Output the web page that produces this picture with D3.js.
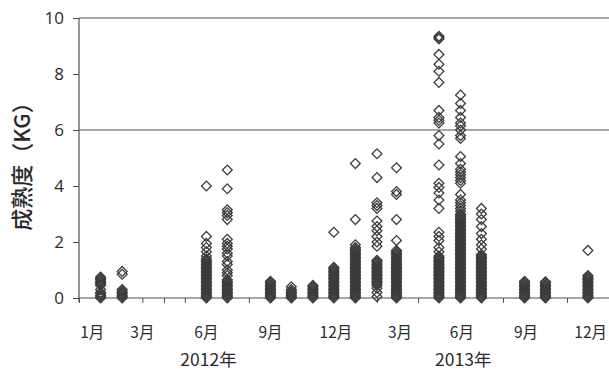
<!DOCTYPE html>
<html>
<head>
<meta charset="utf-8">
<script src="https://cdn.jsdelivr.net/npm/d3@7"></script>
<style>
  html, body { margin: 0; padding: 0; background: #fff; }
  svg { display: block; }
</style>
</head>
<body>
<svg id="chart" width="609" height="373"></svg>
<script>
// Sampling months (plotted mid-month)
const sampleDates = [
  "2012-01-15", "2012-02-15", "2012-06-15", "2012-07-15", "2012-09-15",
  "2012-10-15", "2012-11-15", "2012-12-15", "2013-01-15", "2013-02-15",
  "2013-03-15", "2013-05-15", "2013-06-15", "2013-07-15", "2013-09-15",
  "2013-10-15", "2013-12-15"
];

// Maturity readings (kg) per sampling month, same order as sampleDates
const jan2012 = [0, 0.05, 0.1, 0.15, 0.2, 0.3, 0.45, 0.5, 0.55, 0.6, 0.65, 0.7, 0.75];
const feb2012 = [0, 0.05, 0.1, 0.15, 0.2, 0.25, 0.3, 0.85, 0.95];
const jun2012 = [4.0, 2.2, 1.95, 1.8, 1.65, 1.5, 1.4, 1.35, 1.3, 1.25, 1.2, 1.15, 1.1, 1.05, 1.0, 0.95, 0.9, 0.85,
                 0.8, 0.75, 0.7, 0.65, 0.6, 0.55, 0.5, 0.45, 0.4, 0.35, 0.3, 0.25, 0.2, 0.15, 0.1, 0.05, 0];
const jul2012 = [4.57, 3.9, 3.15, 3.05, 2.95, 2.8, 2.1, 1.95, 1.85, 1.75, 1.6, 1.5, 1.3, 1.2, 1.0, 0.9, 0.8,
                 0.65, 0.6, 0.55, 0.5, 0.45, 0.4, 0.35, 0.3, 0.25, 0.2, 0.15, 0.1, 0.05, 0];
const sep2012 = [0, 0.05, 0.1, 0.15, 0.2, 0.25, 0.3, 0.35, 0.4, 0.45, 0.5, 0.55, 0.6];
const oct2012 = [0, 0.05, 0.1, 0.15, 0.2, 0.25, 0.3, 0.4];
const nov2012 = [0, 0.05, 0.1, 0.15, 0.2, 0.25, 0.3, 0.35, 0.4, 0.45];
const dec2012 = [2.35, 1.1, 1.05, 1.0, 0.95, 0.9, 0.85, 0.8, 0.75, 0.7, 0.65, 0.6, 0.55, 0.5, 0.45, 0.4,
                 0.35, 0.3, 0.25, 0.2, 0.15, 0.1, 0.05, 0];
const jan2013 = [4.8, 2.8, 1.9, 1.8, 1.75, 1.7, 1.65, 1.6, 1.55, 1.5, 1.45, 1.4, 1.35, 1.3, 1.25, 1.2, 1.15,
                 1.1, 1.05, 1.0, 0.95, 0.9, 0.85, 0.8, 0.75, 0.7, 0.65, 0.6, 0.55, 0.5, 0.45, 0.4, 0.35,
                 0.3, 0.25, 0.2, 0.15, 0.1, 0.05, 0];
const feb2013 = [5.15, 4.3, 3.4, 3.3, 3.2, 2.75, 2.55, 2.4, 2.2, 2.0, 1.85, 1.35, 1.3, 1.25, 1.2, 1.15, 1.1,
                 1.05, 1.0, 0.95, 0.9, 0.85, 0.8, 0.75, 0.7, 0.65, 0.6, 0.55, 0.5, 0.45, 0.35, 0.2, 0.05];
const mar2013 = [4.65, 3.8, 3.7, 2.8, 2.05, 1.7, 1.65, 1.6, 1.55, 1.5, 1.45, 1.4, 1.35, 1.3, 1.25, 1.2, 1.15,
                 1.1, 1.05, 1.0, 0.95, 0.9, 0.85, 0.8, 0.75, 0.7, 0.65, 0.6, 0.55, 0.5, 0.45, 0.4, 0.35,
                 0.3, 0.25, 0.2, 0.15, 0.1, 0.05, 0];
const may2013 = [9.35, 9.3, 9.25, 8.7, 8.35, 8.1, 7.7, 6.7, 6.45, 6.35, 6.25, 5.8, 5.5, 4.75, 4.1, 3.95, 3.75,
                 3.5, 3.2, 2.35, 2.2, 2.05, 1.8, 1.65, 1.5, 1.45, 1.4, 1.35, 1.3, 1.25, 1.2, 1.15, 1.1, 1.05,
                 1.0, 0.95, 0.9, 0.85, 0.8, 0.75, 0.7, 0.65, 0.6, 0.55, 0.5, 0.45, 0.4, 0.35, 0.3, 0.25,
                 0.2, 0.15, 0.1, 0.05, 0];
const jun2013 = [7.25, 6.95, 6.7, 6.45, 6.25, 6.15, 6.0, 5.8, 5.7, 5.05, 4.8, 4.6, 4.5, 4.4, 4.3, 4.2, 4.1,
                 3.7, 3.5, 3.4, 3.3, 3.2, 3.1, 3.0, 2.95, 2.9, 2.85, 2.8, 2.75, 2.7, 2.65, 2.6, 2.55, 2.5,
                 2.45, 2.4, 2.35, 2.3, 2.25, 2.2, 2.15, 2.1, 2.05, 2.0, 1.95, 1.9, 1.85, 1.8, 1.75, 1.7,
                 1.65, 1.6, 1.55, 1.5, 1.45, 1.4, 1.35, 1.3, 1.25, 1.2, 1.15, 1.1, 1.05, 1.0, 0.95, 0.9,
                 0.85, 0.8, 0.75, 0.7, 0.65, 0.6, 0.55, 0.5, 0.45, 0.4, 0.35, 0.3, 0.25, 0.2, 0.15, 0.1,
                 0.05, 0];
const jul2013 = [3.2, 3.0, 2.8, 2.55, 2.3, 2.1, 1.9, 1.75, 1.55, 1.5, 1.45, 1.4, 1.35, 1.3, 1.25, 1.2,
                 1.15, 1.1, 1.05, 1.0, 0.95, 0.9, 0.85, 0.8, 0.75, 0.7, 0.65, 0.6, 0.55, 0.5, 0.45, 0.4,
                 0.35, 0.3, 0.25, 0.2, 0.15, 0.1, 0.05, 0];
const sep2013 = [0, 0.05, 0.1, 0.15, 0.2, 0.25, 0.3, 0.35, 0.4, 0.45, 0.5, 0.55, 0.6];
const oct2013 = [0, 0.05, 0.1, 0.15, 0.2, 0.25, 0.3, 0.35, 0.4, 0.45, 0.5, 0.55, 0.58];
const dec2013 = [1.7, 0.8, 0.75, 0.7, 0.65, 0.6, 0.55, 0.5, 0.45, 0.4, 0.35, 0.3, 0.25, 0.2, 0.15, 0.1, 0.05, 0];

const maturityByMonth = [jan2012, feb2012, jun2012, jul2012, sep2012, oct2012, nov2012, dec2012,
                         jan2013, feb2013, mar2013, may2013, jun2013, jul2013, sep2013, oct2013, dec2013];

// Axis text
const yTicks = [0, 2, 4, 6, 8, 10];
const refLines = [6, 10];
const monthLabels = ["1月", "3月", "6月", "9月", "12月", "3月", "6月", "9月", "12月"];
const monthLabelDates = ["2012-01-03", "2012-03-15", "2012-06-15", "2012-09-15", "2012-12-18",
                         "2013-03-20", "2013-06-17", "2013-09-17", "2013-12-19"];
const yearLabels = ["2012年", "2013年"];
const yearLabelDates = ["2012-06-18", "2013-06-19"];
const yTitle = "成熟度（KG）";

const parse = d3.timeParse("%Y-%m-%d");
const svg = d3.select("#chart");

const x = d3.scaleTime()
  .domain([parse("2011-12-15"), parse("2014-01-15")])
  .range([79, 609.5]);
const y = d3.scaleLinear().domain([0, 10]).range([298, 18]);

const axisColor = "#4b524b";
const textColor = "#2a2a2a";

// Reference lines at 6 and 10 kg
svg.append("g").selectAll("line").data(refLines).join("line")
  .attr("x1", x.range()[0]).attr("x2", x.range()[1])
  .attr("y1", d => y(d)).attr("y2", d => y(d))
  .attr("stroke", axisColor).attr("stroke-width", 1.2);

// Y axis
const yAxis = svg.append("g")
  .attr("transform", `translate(${x.range()[0]},0)`)
  .call(d3.axisLeft(y).tickValues(yTicks).tickSize(6).tickPadding(9).tickFormat(d3.format("d")));
yAxis.select(".domain").attr("stroke", axisColor).attr("stroke-width", 1.2).attr("d", `M0,${y(10)}V${y(0) + 4}`);
yAxis.selectAll(".tick line").attr("stroke", axisColor);
yAxis.selectAll(".tick text")
  .attr("font-family", "'Open Sans', 'Noto Sans', sans-serif")
  .attr("font-size", 17).attr("fill", textColor);

// X axis with monthly ticks
const monthTicks = d3.timeMonth.range(parse("2011-12-01"), parse("2014-02-01")).map(d => d3.timeDay.offset(d, 14));
const xAxis = svg.append("g")
  .attr("transform", `translate(0,${y(0)})`)
  .call(d3.axisBottom(x).tickValues(monthTicks).tickSize(5).tickFormat(""));
xAxis.select(".domain").attr("stroke", axisColor).attr("stroke-width", 1.2).attr("d", `M${x.range()[0]},0H${x.range()[1]}`);
xAxis.selectAll(".tick line").attr("stroke", axisColor);

// Month and year labels
svg.append("g").selectAll("text").data(monthLabels).join("text")
  .attr("x", (d, i) => x(parse(monthLabelDates[i])))
  .attr("y", 338)
  .attr("text-anchor", "middle")
  .attr("font-family", "'Noto Sans CJK JP', sans-serif")
  .attr("font-size", 15.5).attr("fill", textColor)
  .text(d => d);

svg.append("g").selectAll("text").data(yearLabels).join("text")
  .attr("x", (d, i) => x(parse(yearLabelDates[i])))
  .attr("y", 366)
  .attr("text-anchor", "middle")
  .attr("font-family", "'Noto Sans CJK JP', sans-serif")
  .attr("font-size", 17.5).attr("fill", textColor)
  .text(d => d);

// Y title
svg.append("text")
  .attr("transform", `translate(30,161) rotate(-90)`)
  .attr("text-anchor", "middle")
  .attr("font-family", "'Noto Sans CJK JP', sans-serif")
  .attr("font-size", 22).attr("font-weight", 500).attr("fill", textColor)
  .text(yTitle);

// Hollow diamond markers
const diamond = d3.symbol(d3.symbolSquare, 48);
const points = maturityByMonth.flatMap((vals, i) => vals.map(v => ({ date: parse(sampleDates[i]), value: v })));
svg.append("g").selectAll("path").data(points).join("path")
  .attr("d", diamond)
  .attr("transform", d => `translate(${x(d.date)},${y(d.value)}) rotate(45)`)
  .attr("fill", "none")
  .attr("stroke", "#3c3c3c")
  .attr("stroke-width", 1.3);
</script>
</body>
</html>
